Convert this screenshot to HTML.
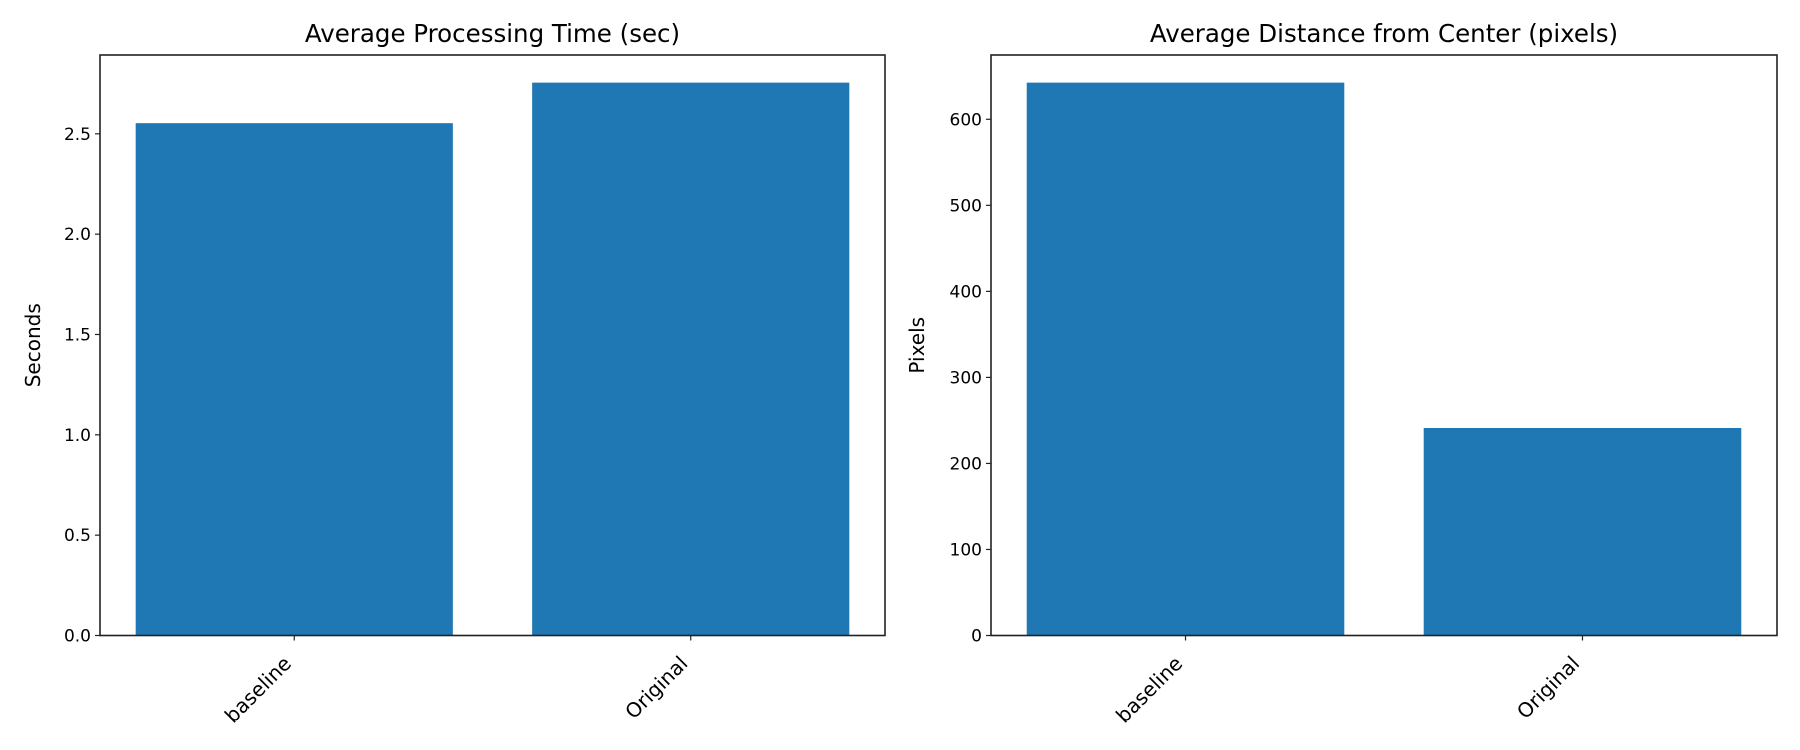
<!DOCTYPE html>
<html><head><meta charset="utf-8"><style>
html,body{margin:0;padding:0;background:#fff;}
svg{display:block;font-family:"DejaVu Sans","Liberation Sans",sans-serif;}
</style></head><body>
<svg id="chart" width="1800" height="750" viewBox="0 0 1800 750" xmlns="http://www.w3.org/2000/svg"></svg>
<script>
const categories = ["baseline", "Original"];
const timeValues = [2.553, 2.755];
const distValues = [642.6, 241.2];
const timeTicks = [0, 0.5, 1.0, 1.5, 2.0, 2.5];
const timeTickLabels = ["0.0", "0.5", "1.0", "1.5", "2.0", "2.5"];
const distTicks = [0, 100, 200, 300, 400, 500, 600];
const distTickLabels = ["0", "100", "200", "300", "400", "500", "600"];

const NS = "http://www.w3.org/2000/svg";
const svg = document.getElementById("chart");
function mk(tag, attrs, parent) {
  const e = document.createElementNS(NS, tag);
  for (const k in attrs) e.setAttribute(k, attrs[k]);
  (parent || svg).appendChild(e);
  return e;
}
function panel(key, x0, x1, y0, y1, values, ticks, tickLabels, title, ylabel, ylabelX) {
  const g = mk("g", {});
  
  
  const ymax = Math.max(...values) * 1.05;
  const ys = v => y1 - (v / ymax) * (y1 - y0);
  const xmin = -0.49, xmaxD = 1.49;
  const xs = v => x0 + (v - xmin) / (xmaxD - xmin) * (x1 - x0);
  values.forEach((v, i) => {
    const r = mk("rect", {x: xs(i - 0.4), y: ys(v), width: xs(i + 0.4) - xs(i - 0.4), height: ys(0) - ys(v), fill: "#1f77b4"}, g);
    
    
  });
  const frame = mk("rect", {x: x0, y: y0, width: x1 - x0, height: y1 - y0, fill: "none", stroke: "#222", "stroke-width": 1.6}, g);
  
  
  ticks.forEach((t, i) => {
    const y = ys(t);
    mk("line", {x1: x0 - 5, x2: x0, y1: y, y2: y, stroke: "#222", "stroke-width": 1.2}, g);
    const tx = mk("text", {x: x0 - 9, y: y + 6, "text-anchor": "end", "font-size": 17, fill: "#000"}, g);
    tx.textContent = tickLabels[i];
    
    
  });
  categories.forEach((c, i) => {
    const x = xs(i);
    mk("line", {x1: x, x2: x, y1: y1, y2: y1 + 5, stroke: "#222", "stroke-width": 1.2}, g);
    const ax = x - 6, ay = y1 + 25;
    const tx = mk("text", {x: ax, y: ay + 6, "text-anchor": "end", "font-size": 20, fill: "#000", transform: "rotate(-45 " + ax + " " + ay + ")"}, g);
    tx.textContent = c;
    
    
  });
  const tt = mk("text", {x: (x0 + x1) / 2, y: 42, "text-anchor": "middle", "font-size": 24.5, fill: "#000"}, g);
  tt.textContent = title;
  
  
  const yl = mk("text", {x: ylabelX, y: (y0 + y1) / 2, "text-anchor": "middle", "font-size": 20, fill: "#000", transform: "rotate(-90 " + ylabelX + " " + (y0 + y1) / 2 + ")"}, g);
  yl.textContent = ylabel;
  
  
}
panel("time", 100, 885, 55, 635.5, timeValues, timeTicks, timeTickLabels, "Average Processing Time (sec)", "Seconds", 40);
panel("distance", 991, 1777, 55, 635.5, distValues, distTicks, distTickLabels, "Average Distance from Center (pixels)", "Pixels", 924);
</script>
</body></html>
